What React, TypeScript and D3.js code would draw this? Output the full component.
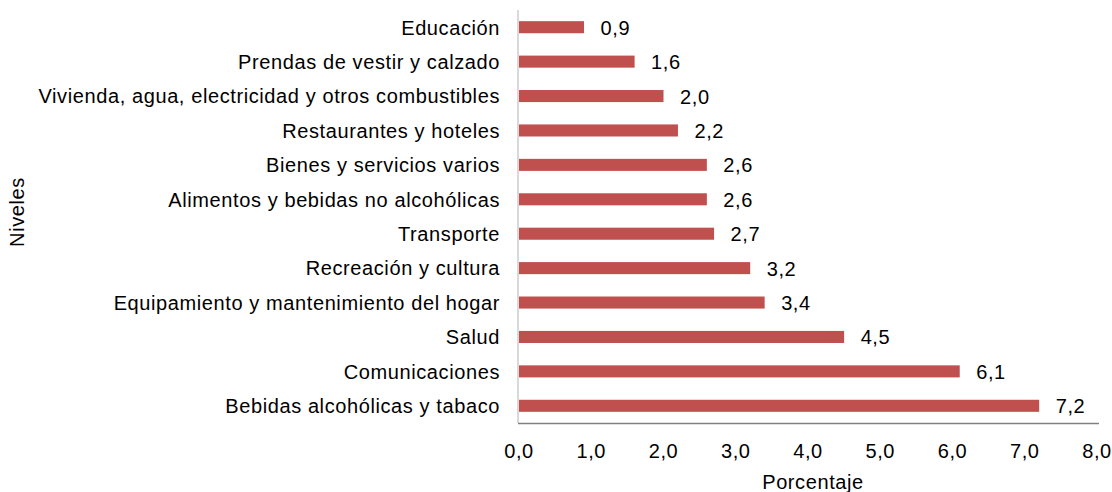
import React from "react";
import * as d3 from "d3";

const categories = [
  "Educación",
  "Prendas de vestir y calzado",
  "Vivienda, agua, electricidad y otros combustibles",
  "Restaurantes y hoteles",
  "Bienes y servicios varios",
  "Alimentos y bebidas no alcohólicas",
  "Transporte",
  "Recreación y cultura",
  "Equipamiento y mantenimiento del hogar",
  "Salud",
  "Comunicaciones",
  "Bebidas alcohólicas y tabaco",
];
const values = [0.9, 1.6, 2.0, 2.2, 2.6, 2.6, 2.7, 3.2, 3.4, 4.5, 6.1, 7.2];
const xTicks = [0, 1, 2, 3, 4, 5, 6, 7, 8];

const W = 1112;
const H = 492;
const FONT = "'Liberation Sans', Arial, Helvetica, sans-serif";
const FS = 20;
const LS = 0.6;

export default function App() {
  const x = d3.scaleLinear().domain([0, 8]).range([519, 1097]);
  const y = d3
    .scaleBand<string>()
    .domain(categories)
    .range([10, 423])
    .paddingInner(0.65)
    .paddingOuter(0.325);
  const fmt = (v: number) => v.toFixed(1).replace(".", ",");
  return (
    <svg
      width={W}
      height={H}
      style={{ position: "absolute", left: 0, top: 0, background: "#fff" }}
      fontFamily={FONT}
      fontSize={FS}
      letterSpacing={LS}
    >
      {categories.map((c, i) => {
        const yy = y(c)!;
        const bw = y.bandwidth();
        const cy = yy + bw / 2;
        return (
          <g key={c}>
            <rect
              x={x(0)}
              y={yy}
              width={x(values[i]) - x(0)}
              height={bw}
              fill="#c0504d"
            />
            <text x={500} y={cy + 7.3} textAnchor="end" fill="#000">
              {c}
            </text>
            <text x={x(values[i]) + 16.5} y={cy + 7.5} fill="#000">
              {fmt(values[i])}
            </text>
          </g>
        );
      })}
      <line x1={518} x2={518} y1={10} y2={423} stroke="#d9d9d9" strokeWidth={2} />
      <line x1={518} x2={1099} y1={423.5} y2={423.5} stroke="#808080" strokeWidth={1.5} />
      {xTicks.map((t) => (
        <text key={t} x={x(t)} y={458.3} textAnchor="middle" fill="#000">
          {fmt(t)}
        </text>
      ))}
      <text x={813} y={489} textAnchor="middle" fill="#000">
        Porcentaje
      </text>
      <text transform="translate(24,212) rotate(-90)" textAnchor="middle" fill="#000">
        Niveles
      </text>
    </svg>
  );
}
